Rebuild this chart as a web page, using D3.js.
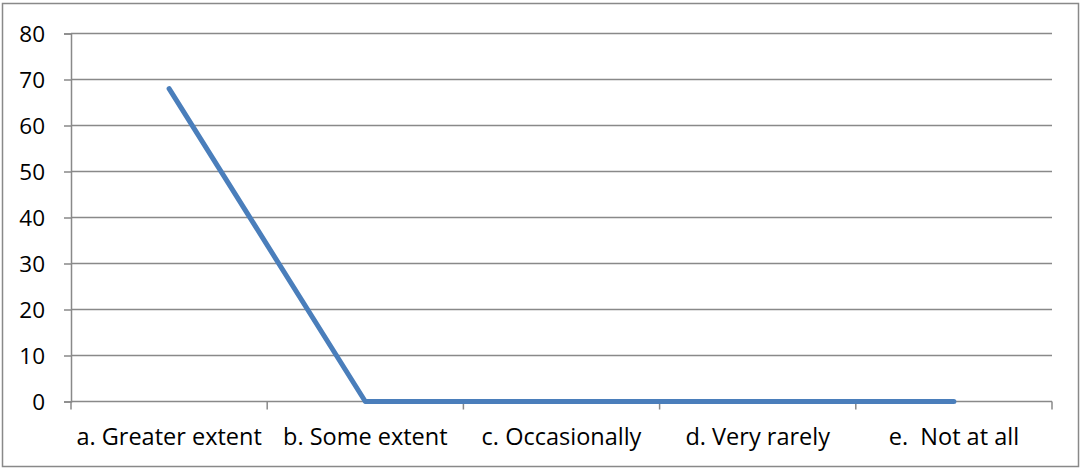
<!DOCTYPE html>
<html><head><meta charset="utf-8">
<script src="https://d3js.org/d3.v7.min.js"></script>
<style>body{margin:0;background:#fff;} text{font-family:"Open Sans",Arial,sans-serif;}</style>
</head><body>
<svg id="c" width="1081" height="468"></svg>
<script>
const categories = ["a. Greater extent", "b. Some extent", "c. Occasionally", "d. Very rarely", "e.  Not at all"];
const values = [68, 0, 0, 0, 0];
const yTicks = [0, 10, 20, 30, 40, 50, 60, 70, 80];

const FONT = "Open Sans, Arial, sans-serif";
const svg = d3.select("#c");
const m = {left: 71, right: 1052, top: 33.5, bottom: 401.5};
svg.append("rect").attr("x", 2.5).attr("y", 3.5).attr("width", 1076).attr("height", 463)
  .attr("fill", "#fff").attr("stroke", "#898989").attr("stroke-width", 1.5);

const x = d3.scaleBand().domain(categories).range([m.left, m.right]);
const y = d3.scaleLinear().domain([0, 80]).range([m.bottom, m.top]);

// gridlines
svg.append("g").selectAll("line").data(yTicks.filter(d => d > 0)).join("line")
  .attr("x1", m.left).attr("x2", m.right).attr("y1", d => y(d)).attr("y2", d => y(d))
  .attr("stroke", "#898989").attr("stroke-width", 1.5);

// y axis
const ya = svg.append("g").attr("transform", `translate(${m.left},0)`)
  .call(d3.axisLeft(y).tickValues(yTicks).tickSize(7).tickPadding(19));
ya.select(".domain").attr("stroke", "#898989").attr("stroke-width", 1.5);
ya.selectAll(".tick line").attr("stroke", "#898989").attr("stroke-width", 1.5);
ya.selectAll("text").attr("font-size", 22.5).attr("fill", "#000").attr("dy", "0.34em")
  .attr("font-family", FONT);

// x axis
const xa = svg.append("g").attr("transform", `translate(0,${m.bottom})`);
xa.append("line").attr("x1", m.left).attr("x2", m.right).attr("y1", 0).attr("y2", 0)
  .attr("stroke", "#898989").attr("stroke-width", 1.5);
const edges = categories.map(c => x(c)).concat([x(categories[categories.length - 1]) + x.bandwidth()]);
xa.selectAll("line.t").data(edges).join("line").attr("class", "t")
  .attr("x1", d => d).attr("x2", d => d).attr("y1", 0).attr("y2", 8)
  .attr("stroke", "#898989").attr("stroke-width", 1.5);
xa.selectAll("text").data(categories).join("text")
  .attr("x", d => x(d) + x.bandwidth() / 2).attr("y", 43.5)
  .attr("text-anchor", "middle").attr("font-size", 23.5).attr("fill", "#000")
  .attr("font-family", FONT)
  .style("white-space", "pre").text(d => d);

// line
const line = d3.line().x((d, i) => x(categories[i]) + x.bandwidth() / 2).y(d => y(d));
svg.append("path").datum(values).attr("d", line).attr("fill", "none")
  .attr("stroke", "#4A7EBB").attr("stroke-width", 5).attr("stroke-linecap", "round")
  .attr("stroke-linejoin", "round");
</script>
</body></html>
